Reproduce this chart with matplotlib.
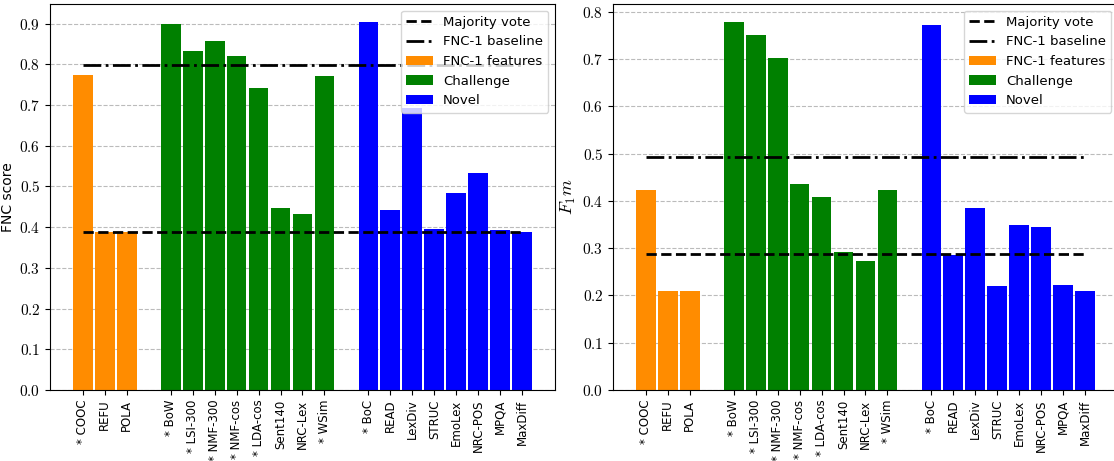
import matplotlib
matplotlib.use('Agg')
import matplotlib.pyplot as plt
from matplotlib.ticker import FuncFormatter, MultipleLocator

matplotlib.rcParams['mathtext.fontset'] = 'cm'
matplotlib.rcParams['font.family'] = 'DejaVu Sans'

# feature names per group
fnc1_names = ['* COOC', 'REFU', 'POLA']
challenge_names = ['* BoW', '* LSI-300', '* NMF-300', '* NMF-cos', '* LDA-cos', 'Sent140', 'NRC-Lex', '* WSim']
novel_names = ['* BoC', 'READ', 'LexDiv', 'STRUC', 'EmoLex', 'NRC-POS', 'MPQA', 'MaxDiff']

# FNC score
fnc_fnc1 = [0.774, 0.389, 0.389]
fnc_challenge = [0.900, 0.833, 0.857, 0.820, 0.742, 0.447, 0.433, 0.771]
fnc_novel = [0.903, 0.442, 0.693, 0.396, 0.483, 0.533, 0.394, 0.389]
fnc_majority = 0.3886
fnc_baseline = 0.7975

# F1m score
f1_fnc1 = [0.424, 0.2085, 0.2085]
f1_challenge = [0.778, 0.752, 0.703, 0.437, 0.409, 0.291, 0.272, 0.424]
f1_novel = [0.772, 0.285, 0.386, 0.221, 0.350, 0.344, 0.223, 0.2085]
f1_majority = 0.288
f1_baseline = 0.4937

# x positions (gap of one slot between groups)
pos_fnc1 = [0, 1, 2]
pos_challenge = list(range(4, 12))
pos_novel = list(range(13, 21))


def draw(ax, fnc1_vals, chal_vals, novel_vals, majority, baseline, ylabel, ylabel_size):
    ax.hlines(majority, pos_fnc1[0], pos_novel[-1], colors='k', linestyles='--', lw=2,
              label='Majority vote', zorder=3)
    ax.hlines(baseline, pos_fnc1[0], pos_novel[-1], colors='k', linestyles='-.', lw=2,
              label='FNC-1 baseline', zorder=3)
    ax.bar(pos_fnc1, fnc1_vals, width=0.9, color='darkorange', label='FNC-1 features', zorder=2)
    ax.bar(pos_challenge, chal_vals, width=0.9, color='green', label='Challenge', zorder=2)
    ax.bar(pos_novel, novel_vals, width=0.9, color='blue', label='Novel', zorder=2)
    ax.set_xticks(pos_fnc1 + pos_challenge + pos_novel)
    ax.set_xticklabels(fnc1_names + challenge_names + novel_names, rotation=90, fontsize=8.5)
    ax.yaxis.set_major_locator(MultipleLocator(0.1))
    ax.yaxis.set_major_formatter(FuncFormatter(lambda v, p: '$%.1f$' % v))
    ax.tick_params(axis='y', labelsize=11)
    ax.grid(axis='y', linestyle='--', color='#bbbbbb', lw=0.8, zorder=0)
    ax.set_ylabel(ylabel, fontsize=ylabel_size, labelpad=3)
    ax.legend(loc='upper right', fontsize=9.5)


fig = plt.figure(figsize=(11.14, 4.61), dpi=100)
ax1 = fig.add_axes([50 / 1114, 71 / 461, 505 / 1114, 386 / 461])
ax2 = fig.add_axes([613 / 1114, 71 / 461, 505 / 1114, 386 / 461])

draw(ax1, fnc_fnc1, fnc_challenge, fnc_novel, fnc_majority, fnc_baseline, 'FNC score', 10)
draw(ax2, f1_fnc1, f1_challenge, f1_novel, f1_majority, f1_baseline, '$F_1m$', 13)

fig.savefig('out.png', dpi=100)
